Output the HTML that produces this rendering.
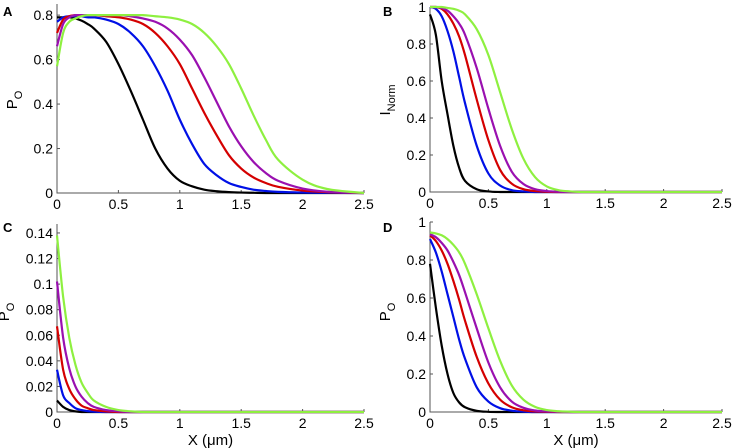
<!DOCTYPE html>
<html><head><meta charset="utf-8">
<style>
html,body{margin:0;padding:0;background:#fff;}
svg{display:block;font-family:"Liberation Sans",Arial,sans-serif;}
</style></head>
<body>
<svg id="fig" width="733" height="448" viewBox="0 0 733 448"></svg>
<script>
const xs = [0,0.05,0.1,0.15,0.2,0.25,0.3,0.4,0.5,0.6,0.7,0.8,0.9,1.0,1.1,1.2,1.3,1.4,1.5,1.6,1.7,1.8,2.0,2.2,2.5];
const seriesNames = ["black","blue","red","purple","green"];
const colors = ["#000000","#0010e6","#d40000","#9a10b0","#8ef040"];
// Panel A
const aBlack  = [0.79,0.79,0.79,0.785,0.775,0.76,0.74,0.68,0.58,0.46,0.33,0.2,0.11,0.055,0.03,0.015,0.008,0.004,0.002,0.001,0,0,0,0,0];
const aBlue   = [0.77,0.79,0.795,0.795,0.795,0.79,0.79,0.78,0.76,0.72,0.66,0.57,0.46,0.33,0.22,0.13,0.08,0.045,0.027,0.015,0.009,0.005,0.002,0.001,0];
const aRed    = [0.72,0.78,0.795,0.8,0.8,0.8,0.8,0.795,0.79,0.78,0.76,0.72,0.66,0.58,0.47,0.36,0.26,0.17,0.11,0.07,0.045,0.028,0.011,0.004,0];
const aPurple = [0.66,0.76,0.79,0.8,0.8,0.8,0.8,0.8,0.8,0.795,0.785,0.77,0.74,0.69,0.62,0.52,0.41,0.3,0.21,0.14,0.09,0.055,0.02,0.006,0];
const aGreen  = [0.57,0.72,0.77,0.785,0.795,0.8,0.8,0.8,0.8,0.8,0.8,0.795,0.79,0.78,0.76,0.72,0.66,0.58,0.47,0.35,0.24,0.15,0.06,0.018,0];
// Panel B
const bBlack  = [0.96,0.85,0.6,0.42,0.25,0.13,0.06,0.015,0.003,0];
const bBlue   = [1,0.99,0.95,0.87,0.76,0.62,0.48,0.25,0.1,0.035,0.01,0.003,0];
const bRed    = [1,1,0.99,0.96,0.91,0.84,0.74,0.5,0.28,0.12,0.045,0.015,0.005,0.001,0];
const bPurple = [1,1,0.995,0.98,0.95,0.91,0.85,0.67,0.45,0.25,0.11,0.043,0.015,0.005,0.001,0];
const bGreen  = [1,1,1,0.995,0.99,0.98,0.96,0.88,0.74,0.54,0.34,0.18,0.08,0.03,0.01,0.003,0];
// Panel C
const cBlack  = [0.009,0.004,0.0015,0.0005,0];
const cBlue   = [0.033,0.013,0.007,0.003,0.0015,0.0007,0.0003,0];
const cRed    = [0.067,0.033,0.018,0.01,0.005,0.003,0.0015,0.0005,0];
const cPurple = [0.102,0.058,0.034,0.02,0.012,0.007,0.004,0.0015,0.0005,0];
const cGreen  = [0.138,0.09,0.058,0.037,0.023,0.015,0.009,0.004,0.0015,0.0005,0];
// Panel D
const dBlack  = [0.78,0.55,0.35,0.2,0.1,0.05,0.025,0.006,0.001,0];
const dBlue   = [0.91,0.84,0.74,0.62,0.5,0.38,0.28,0.13,0.055,0.02,0.007,0.002,0];
const dRed    = [0.93,0.9,0.85,0.78,0.69,0.59,0.48,0.29,0.15,0.065,0.025,0.009,0.003,0.001,0];
const dPurple = [0.935,0.92,0.89,0.85,0.79,0.72,0.63,0.44,0.26,0.13,0.055,0.022,0.008,0.003,0.001,0];
const dGreen  = [0.945,0.94,0.93,0.91,0.88,0.84,0.78,0.62,0.44,0.27,0.14,0.065,0.027,0.01,0.004,0.0015,0];
const xTicks = [0,0.5,1,1.5,2,2.5];
const xTickLabels = ["0","0.5","1","1.5","2","2.5"];
const aYTicks = [0,0.2,0.4,0.6,0.8];
const bYTicks = [0,0.2,0.4,0.6,0.8,1];
const cYTicks = [0,0.02,0.04,0.06,0.08,0.1,0.12,0.14];
const dYTicks = [0,0.2,0.4,0.6,0.8,1];

const NS="http://www.w3.org/2000/svg";
const svg=document.getElementById('fig');
function mk(tag,attrs,parent){const e=document.createElementNS(NS,tag);for(const k in attrs)e.setAttribute(k,attrs[k]);(parent||svg).appendChild(e);return e;}
function pad(a){const r=a.slice();while(r.length<xs.length)r.push(0);return r;}

function panel(cfg){
  const g=mk('g',{});
  
  
  const X=v=>cfg.x0+(v-0)/2.5*(cfg.x1-cfg.x0);
  const Y=v=>cfg.y0-(v/cfg.ymax)*(cfg.y0-cfg.yTop);
  const ax=mk('path',{d:`M${cfg.x0} ${cfg.yTop}V${cfg.y0}H${cfg.x1}`,fill:'none',stroke:'#555','stroke-width':1},g);
  
  
  xTicks.forEach((t,i)=>{
    mk('line',{x1:X(t),x2:X(t),y1:cfg.y0,y2:cfg.y0-3,stroke:'#555'},g);
    const tx=mk('text',{x:X(t),y:cfg.y0+16,'font-size':14,'text-anchor':'middle',fill:'#000'},g);
    tx.textContent=xTickLabels[i];
    
    
  });
  cfg.yTicks.forEach(t=>{
    mk('line',{x1:cfg.x0,x2:cfg.x0+3,y1:Y(t),y2:Y(t),stroke:'#555'},g);
    const tx=mk('text',{x:cfg.x0-4,y:Y(t)+5,'font-size':14,'text-anchor':'end',fill:'#000'},g);
    tx.textContent=String(t);
    
    
  });
  cfg.series.forEach((arr,si)=>{
    const v=pad(arr);
    const pts=xs.map((x,i)=>[X(x),Y(v[i])]);
    let d=`M${pts[0][0]} ${pts[0][1]}`;
    for(let i=0;i<pts.length-1;i++){
      const p0=pts[Math.max(0,i-1)],p1=pts[i],p2=pts[i+1],p3=pts[Math.min(pts.length-1,i+2)];
      let c1y=p1[1]+(p2[1]-p0[1])/6, c2y=p2[1]-(p3[1]-p1[1])/6;
      const lo=Math.min(p1[1],p2[1]),hi=Math.max(p1[1],p2[1]);
      c1y=Math.min(hi,Math.max(lo,c1y));c2y=Math.min(hi,Math.max(lo,c2y));
      d+=`C${p1[0]+(p2[0]-p0[0])/6} ${c1y} ${p2[0]-(p3[0]-p1[0])/6} ${c2y} ${p2[0]} ${p2[1]}`;
    }
    const p=mk('path',{d:d,fill:'none',stroke:colors[si],'stroke-width':2.2,'stroke-linejoin':'round'},g);
    
    
  });
  const L=mk('text',{x:cfg.lx,y:cfg.ly,'font-size':13,'font-weight':'bold',fill:'#000'},g);
  L.textContent=cfg.letter;
  
  
  const yl=mk('text',{transform:`translate(${cfg.ylx},${cfg.yly}) rotate(-90)`,'font-size':15,'text-anchor':'middle',fill:'#000'},g);
  
  
  yl.innerHTML=cfg.ylab;
  if(cfg.xlabel){
    const xl=mk('text',{x:(cfg.x0+cfg.x1)/2,y:cfg.y0+33,'font-size':15,'text-anchor':'middle',fill:'#000'},g);
    xl.textContent='X (\u03bcm)';
    
    
  }
}
const PO='P<tspan font-size="11" dy="5">O</tspan>';
panel({letter:'A',x0:57,x1:364,y0:193,yTop:4,ymax:0.85,yTicks:aYTicks,series:[aBlack,aBlue,aRed,aPurple,aGreen],lx:3,ly:16,ylx:17,yly:100,ylab:PO});
panel({letter:'B',x0:430,x1:722,y0:192,yTop:7,ymax:1,yTicks:bYTicks,series:[bBlack,bBlue,bRed,bPurple,bGreen],lx:383,ly:16,ylx:390,yly:100,ylab:'I<tspan font-size="11" dy="5">Norm</tspan>'});
panel({letter:'C',x0:57,x1:364,y0:412,yTop:224,ymax:0.147,yTicks:cYTicks,series:[cBlack,cBlue,cRed,cPurple,cGreen],lx:3,ly:232,ylx:9,yly:312,ylab:PO,xlabel:true});
panel({letter:'D',x0:430,x1:722,y0:412,yTop:222,ymax:1,yTicks:dYTicks,series:[dBlack,dBlue,dRed,dPurple,dGreen],lx:383,ly:232,ylx:390,yly:312,ylab:PO,xlabel:true});
</script>
</body></html>
